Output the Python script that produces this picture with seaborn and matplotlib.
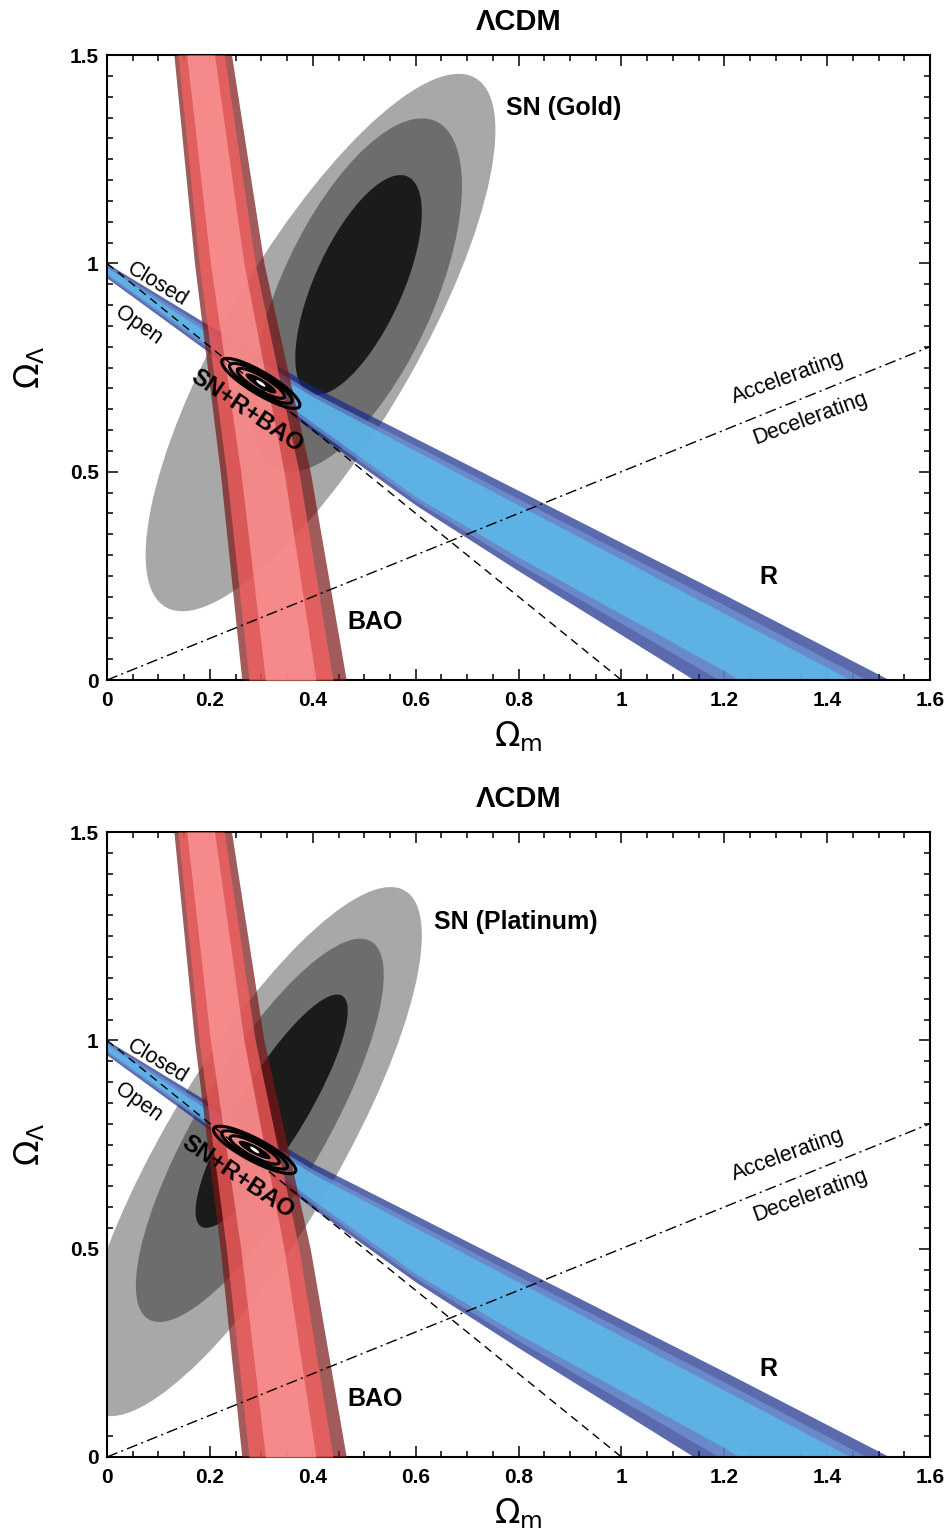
import numpy as np
import matplotlib
matplotlib.use("Agg")
import matplotlib.pyplot as plt
from matplotlib.patches import Ellipse
from matplotlib.ticker import MultipleLocator
import seaborn as sns

# ─── Data ───────────────────────────────────────────────
# R (CMB shift) band: Omega_Lambda of each band edge at these Omega_m
R_OM = [0.0, 0.2, 0.4, 0.6, 0.8, 1.2, 1.6]
R_LO3 = [0.965, 0.785, 0.597, 0.420, 0.262, -0.045, -0.350]
R_LO2 = [0.970, 0.793, 0.607, 0.430, 0.279, -0.007, -0.310]
R_LO1 = [0.975, 0.800, 0.617, 0.440, 0.295, 0.022, -0.270]
R_UP1 = [0.990, 0.830, 0.680, 0.550, 0.420, 0.160, -0.100]
R_UP2 = [0.995, 0.840, 0.690, 0.563, 0.435, 0.180, -0.080]
R_UP3 = [1.000, 0.850, 0.705, 0.580, 0.455, 0.205, -0.050]

# BAO band: Omega_m of each band edge at these Omega_Lambda
BAO_OL = [0.0, 0.5, 1.0, 1.5]
BAO_L3 = [0.262, 0.220, 0.170, 0.130]
BAO_L2 = [0.276, 0.232, 0.179, 0.138]
BAO_L1 = [0.308, 0.260, 0.201, 0.155]
BAO_R1 = [0.406, 0.344, 0.266, 0.209]
BAO_R2 = [0.439, 0.373, 0.288, 0.228]
BAO_R3 = [0.465, 0.395, 0.305, 0.242]

# SN contours (3, 2, 1 sigma): centre, spread in x / y, correlation
GOLD_CX = [0.415, 0.485, 0.489]
GOLD_CY = [0.810, 0.924, 0.948]
GOLD_SX = [0.340, 0.205, 0.123]
GOLD_SY = [0.645, 0.424, 0.264]
GOLD_RHO = [0.79, 0.62, 0.66]

PLAT_CX = [0.279, 0.297, 0.320]
PLAT_CY = [0.733, 0.784, 0.830]
PLAT_SX = [0.333, 0.241, 0.148]
PLAT_SY = [0.635, 0.460, 0.280]
PLAT_RHO = [0.817, 0.81, 0.86]

# joint SN+R+BAO contours: three outlines, filled core, best fit dot
GOLD_JOINT_C = [0.299, 0.712]
GOLD_JOINT_SX = [0.076, 0.061, 0.046, 0.030, 0.009]
GOLD_JOINT_SY = [0.060, 0.048, 0.036, 0.024, 0.008]
GOLD_JOINT_RHO = -0.86

PLAT_JOINT_C = [0.287, 0.737]
PLAT_JOINT_SX = [0.080, 0.064, 0.048, 0.031, 0.009]
PLAT_JOINT_SY = [0.057, 0.046, 0.034, 0.022, 0.008]
PLAT_JOINT_RHO = -0.85

# flat universe and q0 = 0 lines
FLAT_OM = [0.0, 1.0]
FLAT_OL = [1.0, 0.0]
ACC_OM = [0.0, 1.6]
ACC_OL = [0.0, 0.8]

XTICKS = [0, 0.2, 0.4, 0.6, 0.8, 1.0, 1.2, 1.4, 1.6]
XTICKLABELS = ["0", "0.2", "0.4", "0.6", "0.8", "1", "1.2", "1.4", "1.6"]
YTICKS = [0, 0.5, 1.0, 1.5]
YTICKLABELS = ["0", "0.5", "1", "1.5"]

SN_GREYS = ["#a8a8a8", "#6d6d6d", "#1b1b1b"]
RED = ["#7b1515", "#fe6262", "#ff9d9d"]
BLUE = ["#152a8b", "#7098d7", "#5ac3f1"]


sns.set_theme(style="ticks")
plt.rcParams["font.family"] = ["Liberation Sans", "DejaVu Sans"]
plt.rcParams["mathtext.fontset"] = "dejavusans"
plt.rcParams["text.color"] = "black"
plt.rcParams["xtick.color"] = "black"
plt.rcParams["ytick.color"] = "black"


def cov_ellipse(cx, cy, sx, sy, rho, **kw):
    """Ellipse patch for a correlated 2D spread, in data units."""
    cov = np.array([[sx**2, rho * sx * sy], [rho * sx * sy, sy**2]])
    vals, vecs = np.linalg.eigh(cov)
    ang = np.degrees(np.arctan2(vecs[1, 1], vecs[0, 1]))
    return Ellipse((cx, cy), 2 * np.sqrt(vals[1]), 2 * np.sqrt(vals[0]),
                   angle=ang, **kw)


def draw_panel(ax, sn, joint, sn_label, sn_xy, r_y, joint_xy):
    cx, cy, sx, sy, rho = sn
    for i in range(3):
        ax.add_patch(cov_ellipse(cx[i], cy[i], sx[i], sy[i], rho[i],
                                 color=SN_GREYS[i], lw=0, zorder=1))

    # R band (nested, translucent)
    for lo, hi, col in [(R_LO3, R_UP3, BLUE[0]), (R_LO2, R_UP2, BLUE[1]),
                        (R_LO1, R_UP1, BLUE[2])]:
        ax.fill_between(R_OM, lo, hi, color=col, alpha=0.7, lw=0, zorder=2)

    # BAO band on top of it
    for lo, hi, col in [(BAO_L3, BAO_R3, RED[0]), (BAO_L2, BAO_R2, RED[1]),
                        (BAO_L1, BAO_R1, RED[2])]:
        ax.fill_betweenx(BAO_OL, lo, hi, color=col, alpha=0.7, lw=0, zorder=3)

    sns.lineplot(x=FLAT_OM, y=FLAT_OL, ax=ax, color="black", lw=1.0,
                 linestyle=(0, (6, 4)), sort=False, zorder=4)
    sns.lineplot(x=ACC_OM, y=ACC_OL, ax=ax, color="black", lw=1.0,
                 linestyle=(0, (8, 3, 1.5, 3)), sort=False, zorder=4)

    (jx, jy), jsx, jsy, jrho = joint
    for k in range(3):
        ax.add_patch(cov_ellipse(jx, jy, jsx[k], jsy[k], jrho, fill=False,
                                 ec="black", lw=2.2, zorder=5))
    ax.add_patch(cov_ellipse(jx, jy, jsx[3], jsy[3], jrho, color="black",
                             lw=0, zorder=5))
    ax.add_patch(cov_ellipse(jx, jy, jsx[4], jsy[4], jrho, color="white",
                             lw=0, zorder=6))

    bold = dict(fontweight="bold", fontsize=18, zorder=7)
    ax.text(sn_xy[0], sn_xy[1], sn_label, ha="left", va="center", **bold)
    ax.text(0.467, 0.139, "BAO", ha="left", va="center", **bold)
    ax.text(1.268, r_y, "R", ha="left", va="center", **bold)
    ax.text(joint_xy[0], joint_xy[1], "SN+R+BAO", ha="center", va="center",
            rotation=-34, rotation_mode="anchor", fontweight="bold",
            fontsize=17, zorder=7)

    thin = dict(fontsize=15.5, ha="center", va="center",
                rotation_mode="anchor", zorder=7)
    ax.text(0.097, 0.950, "Closed", rotation=-31, **thin)
    ax.text(0.062, 0.851, "Open", rotation=-35, **thin)
    ax.text(1.324, 0.726, "Accelerating", rotation=20, **thin)
    ax.text(1.367, 0.627, "Decelerating", rotation=20, **thin)

    ax.set_xlim(0, 1.6)
    ax.set_ylim(0, 1.5)
    ax.set_xticks(XTICKS)
    ax.set_xticklabels(XTICKLABELS, fontweight="bold")
    ax.set_yticks(YTICKS)
    ax.set_yticklabels(YTICKLABELS, fontweight="bold")
    ax.xaxis.set_minor_locator(MultipleLocator(0.05))
    ax.yaxis.set_minor_locator(MultipleLocator(0.05))
    ax.tick_params(which="both", direction="in", top=True, right=True,
                   width=1.1, colors="black")
    ax.tick_params(which="major", length=8, labelsize=15, pad=6)
    ax.tick_params(which="minor", length=4)
    ax.tick_params(axis="x", which="major", pad=8)
    for sp in ax.spines.values():
        sp.set_linewidth(1.5)
        sp.set_color("black")
    ax.set_xlabel("")
    ax.set_ylabel("")

    ax.text(0.5, 1.053, "ΛCDM", transform=ax.transAxes, ha="center",
            va="center", fontsize=21, fontweight="bold")
    ax.text(0.5, -0.090, r"$\Omega_{\rm m}$", transform=ax.transAxes,
            ha="center", va="center", fontsize=24)
    ax.text(-0.094, 0.5, r"$\Omega_\Lambda$", transform=ax.transAxes,
            ha="center", va="center", fontsize=24, rotation=90)


fig = plt.figure(figsize=(9.48, 15.34), dpi=100)
ax_top = fig.add_axes([0.1129, 0.5567, 0.8682, 0.4074])
ax_bot = fig.add_axes([0.1129, 0.0502, 0.8682, 0.4074])

draw_panel(ax_top,
           (GOLD_CX, GOLD_CY, GOLD_SX, GOLD_SY, GOLD_RHO),
           (GOLD_JOINT_C, GOLD_JOINT_SX, GOLD_JOINT_SY, GOLD_JOINT_RHO),
           "SN (Gold)", (0.775, 1.373), 0.247, (0.272, 0.646))
draw_panel(ax_bot,
           (PLAT_CX, PLAT_CY, PLAT_SX, PLAT_SY, PLAT_RHO),
           (PLAT_JOINT_C, PLAT_JOINT_SX, PLAT_JOINT_SY, PLAT_JOINT_RHO),
           "SN (Platinum)", (0.636, 1.284), 0.211, (0.255, 0.672))

fig.savefig("out.png", dpi=100, facecolor="white")
